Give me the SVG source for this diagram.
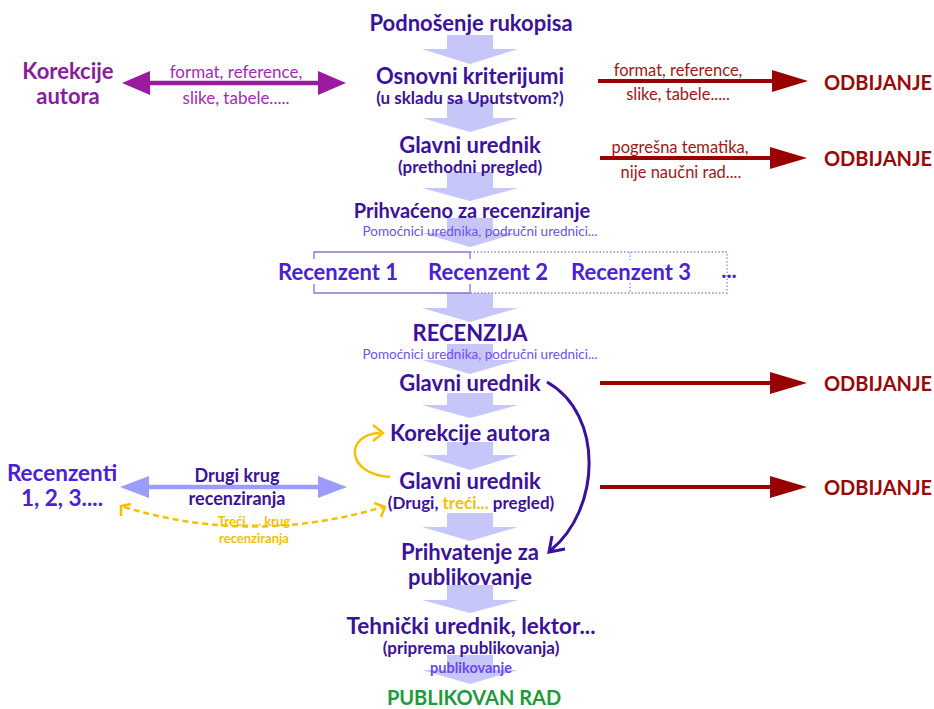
<svg xmlns="http://www.w3.org/2000/svg" width="934" height="709" viewBox="0 0 934 709">
<defs>
<style>
text{font-family:Lato,"Open Sans","DejaVu Sans",sans-serif;text-anchor:middle;dominant-baseline:central}
.main{font-size:22px;font-weight:bold;fill:#3c1299}
.sub{font-size:17px;font-weight:bold;fill:#3c1299}
.help{font-size:13.5px;fill:#7050ee}
.rec{font-size:22px;font-weight:bold;fill:#4b22d1}
.odb{font-size:20px;font-weight:bold;fill:#990808}
.redlbl{font-size:16.5px;fill:#a01818}
.maglbl{font-size:17px;fill:#a22cb0}
.mag{font-size:22px;font-weight:bold;fill:#8a1c9c}
.yel{font-size:13px;font-weight:bold;fill:#f5c000}
.flow{fill:#c6c6f9}
.red{stroke:#990000;stroke-width:4;fill:none}
.redhead{fill:#990000}
</style>
</defs>

<g id="connectors">
<!-- central flow block arrows -->
<polygon class="flow" points="447,35 493,35 493,49 518,49 470,64 422,49 447,49"/>
<polygon class="flow" points="447,100 493,100 493,118 518,118 470,132 422,118 447,118"/>
<polygon class="flow" points="447,172 493,172 493,188 518,188 470,201 422,188 447,188"/>
<polygon class="flow" points="447,218 493,218 493,233 518,233 470,247 422,233 447,233"/>
<polygon class="flow" points="447,293 493,293 493,308 518,308 470,322 422,308 447,308"/>
<polygon class="flow" points="447,344 493,344 493,360 518,360 470,374 422,360 447,360"/>
<polygon class="flow" points="447,393 493,393 493,405 518,405 470,418 422,405 447,405"/>
<polygon class="flow" points="447,442 493,442 493,455 518,455 470,470 422,455 447,455"/>
<polygon class="flow" points="447,513 493,513 493,527 518,527 470,541 422,527 447,527"/>
<polygon class="flow" points="447,585 493,585 493,600 518,600 470,613 422,600 447,600"/>
<polygon class="flow" points="447,655 493,655 493,670 518,670 470,684 422,670 447,670"/>

<!-- reviewer boxes -->
<g stroke="#8e72d4" stroke-width="1.3" fill="none">
<path d="M314,259 V252 H470 V259"/>
<path d="M314,284 V293 H470 V284"/>
</g>
<g stroke="#9a82dc" stroke-width="1.3" fill="none" stroke-dasharray="1.5 2">
<path d="M470,252 H727 V293 H470"/>
<path d="M630,252 V260 M630,283 V293"/>
</g>

<!-- magenta double arrow -->
<line x1="146" y1="83" x2="322" y2="83" stroke="#9a1aa0" stroke-width="4.5"/>
<polygon points="122,83 150,71 150,95" fill="#9a1aa0"/>
<polygon points="346,83 318,71 318,95" fill="#9a1aa0"/>

<!-- red rejection arrows -->
<line class="red" x1="598" y1="81" x2="776" y2="81"/>
<polygon class="redhead" points="772,70 808,81 772,92"/>
<line class="red" x1="600" y1="158" x2="774" y2="158"/>
<polygon class="redhead" points="770,147 807,158 770,169"/>
<line class="red" x1="600" y1="383" x2="774" y2="383"/>
<polygon class="redhead" points="770,372 807,383 770,394"/>
<line class="red" x1="600" y1="487" x2="774" y2="487"/>
<polygon class="redhead" points="770,476 807,487 770,498"/>

<!-- light blue double arrow -->
<line x1="144" y1="487" x2="322" y2="487" stroke="#9c9cfc" stroke-width="4.5"/>
<polygon points="120,487 149,476 149,498" fill="#9c9cfc"/>
<polygon points="347,487 318,476 318,498" fill="#9c9cfc"/>

<!-- yellow dashed double arrow -->
<path d="M124,507 Q252,546 383,507" fill="none" stroke="#f5c000" stroke-width="2.5" stroke-dasharray="6 4"/>
<path d="M121,516 L121,506 L131,504" fill="none" stroke="#f5c000" stroke-width="2.5"/>
<path d="M374,503 L385,507 L381,517" fill="none" stroke="#f5c000" stroke-width="2.5"/>

<!-- yellow loop arrow -->
<path d="M390,477 C345,474 345,434 380,433" fill="none" stroke="#f5c000" stroke-width="2.5"/>
<path d="M373,425 L383,433 L373,441" fill="none" stroke="#f5c000" stroke-width="2.5"/>

<!-- dark purple curved arrow -->
<path d="M547,382 C605,415 600,510 551,550" fill="none" stroke="#3a10a0" stroke-width="3"/>
<path d="M552,536 L549,552 L565,549" fill="none" stroke="#3a10a0" stroke-width="3"/>
</g>

<g id="n-podnosenje"><text class="main" x="471" y="22">Podnošenje rukopisa</text></g>
<g id="n-osnovni"><text class="main" x="470" y="75">Osnovni kriterijumi</text><text class="sub" x="470" y="97">(u skladu sa Uputstvom?)</text></g>
<g id="n-glavni1"><text class="main" x="470" y="144">Glavni urednik</text><text class="sub" x="470" y="166">(prethodni pregled)</text></g>
<g id="n-prihvaceno"><text class="main" x="472" y="210" style="font-size:20px">Prihvaćeno za recenziranje</text><text class="help" x="480" y="231">Pomoćnici urednika, područni urednici...</text></g>
<g id="n-recenzenti-row">
<text class="rec" x="338" y="271">Recenzent 1</text>
<text class="rec" x="488" y="271">Recenzent 2</text>
<text class="rec" x="631" y="271">Recenzent 3</text>
<text class="rec" x="729" y="269">...</text>
</g>
<g id="n-recenzija"><text class="main" x="470" y="332">RECENZIJA</text><text class="help" x="480" y="354">Pomoćnici urednika, područni urednici...</text></g>
<g id="n-glavni2"><text class="main" x="470" y="382">Glavni urednik</text></g>
<g id="n-korekcije"><text class="main" x="470" y="432">Korekcije autora</text></g>
<g id="n-glavni3"><text class="main" x="470" y="480">Glavni urednik</text><text class="sub" x="471" y="502">(Drugi, <tspan fill="#f5c000">treći...</tspan> pregled)</text></g>
<g id="n-prihvatanje"><text class="main" x="470" y="551">Prihvatenje za</text><text class="main" x="470" y="576">publikovanje</text></g>
<g id="n-tehnicki"><text class="main" x="471" y="625" style="font-size:22.5px">Tehnički urednik, lektor...</text><text class="sub" x="471" y="647">(priprema publikovanja)</text><text x="471" y="667" style="font-size:14.5px;font-weight:bold;fill:#6a48f0">publikovanje</text></g>
<g id="n-publikovan"><text x="474" y="697" style="font-size:20px;font-weight:bold;fill:#1e9a3a">PUBLIKOVAN RAD</text></g>

<g id="n-korekcije-autora"><text class="mag" x="68" y="70">Korekcije</text><text class="mag" x="68" y="95">autora</text></g>
<g id="l-mag"><text class="maglbl" x="236" y="71">format, reference,</text><text class="maglbl" x="236" y="97">slike, tabele.....</text></g>
<g id="n-odb1"><text class="odb" x="878" y="82">ODBIJANJE</text></g>
<g id="l-red1"><text class="redlbl" x="678" y="70">format, reference,</text><text class="redlbl" x="678" y="94">slike, tabele.....</text></g>
<g id="n-odb2"><text class="odb" x="878" y="158">ODBIJANJE</text></g>
<g id="l-red2"><text class="redlbl" x="680" y="147">pogrešna tematika,</text><text class="redlbl" x="681" y="172">nije naučni rad....</text></g>
<g id="n-odb3"><text class="odb" x="878" y="383">ODBIJANJE</text></g>
<g id="n-odb4"><text class="odb" x="878" y="487">ODBIJANJE</text></g>
<g id="n-recenzenti"><text class="rec" x="62" y="472" style="font-size:22.5px">Recenzenti</text><text class="rec" x="62" y="497" style="font-size:22.5px">1, 2, 3....</text></g>
<g id="l-drugi"><text class="sub" x="237" y="475" style="font-size:18px">Drugi krug</text><text class="sub" x="237" y="498" style="font-size:18px">recenziranja</text></g>
<g id="l-treci"><text class="yel" x="254" y="521">Treći, ... krug</text><text class="yel" x="254" y="538">recenziranja</text></g>
</svg>
